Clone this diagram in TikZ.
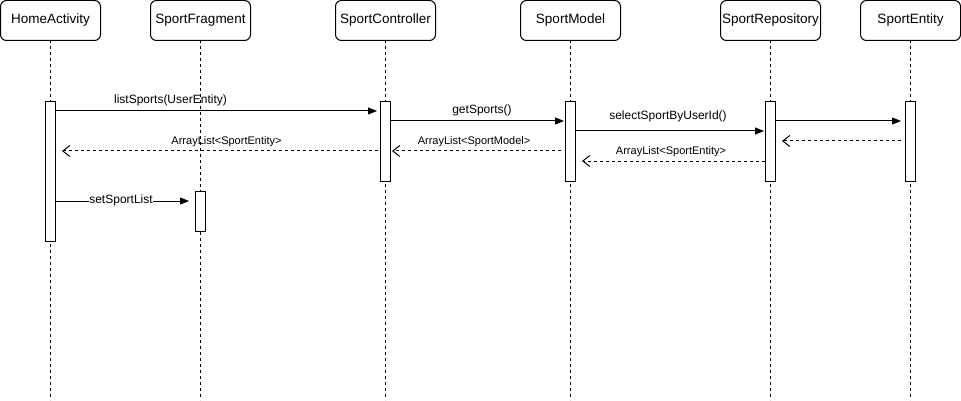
\documentclass[tikz,border=0pt]{standalone}
\usepackage{fontspec}
\setmainfont{Liberation Sans}
\usetikzlibrary{arrows.meta, positioning, calc}

\begin{document}
\begin{tikzpicture}[x=1pt, y=-1pt, line width=1pt,
  head/.style={draw, rounded corners=6pt, minimum width=100pt, minimum height=40pt, inner sep=0pt, font=\fontsize{13.5}{16}\selectfont},
  bar/.style={draw, fill=white, minimum width=10pt, inner sep=0pt},
  life/.style={dash pattern=on 3pt off 3pt},
  call/.style={-{Triangle[length=9pt, width=7pt]}},
  reply/.style={dash pattern=on 3pt off 3pt, -{Straight Barb[length=7pt, width=11pt]}},
  lbl/.style={font=\fontsize{12}{14}\selectfont, inner sep=1pt},
  small/.style={font=\fontsize{11}{13}\selectfont, inner sep=1pt}]
  \useasboundingbox (0,0) rectangle (961,401);
  \coordinate (bottom) at (0,400);

  % Lifelines and heads
  \foreach \nm/\x/\txt in {ha/50.5/HomeActivity, sf/200.5/SportFragment, sc/385.5/SportController,
                          sm/570.5/SportModel, sr/770.5/SportRepository, se/910.5/SportEntity} {
    \draw[life] (\x,40) -- (\x,400);
    \node[head] (\nm) at (\x,20.5) {\txt};
  }

  % Activation bars
  \node[bar, minimum height=140pt, below=60pt of ha] (hab) {};
  \node[bar, minimum height=40pt, below=150pt of sf] (sfb) {};
  \node[bar, minimum height=80pt, below=60pt of sc] (scb) {};
  \node[bar, minimum height=80pt, below=60pt of sm] (smb) {};
  \node[bar, minimum height=80pt, below=60pt of sr] (srb) {};
  \node[bar, minimum height=80pt, below=60pt of se] (seb) {};

  % Calls
  \draw[call, shorten >=3pt] ($(hab.north east)+(0,10)$) -- ($(scb.north west)+(0,10)$);
  \draw[call, shorten >=1pt] ($(scb.north east)+(0,20)$) -- ($(smb.north west)+(0,20)$);
  \draw[call, shorten >=1pt] ($(smb.north east)+(0,30)$) -- ($(srb.north west)+(0,30)$);
  \draw[call, shorten >=4pt] ($(srb.north east)+(0,20)$) -- ($(seb.north west)+(0,20)$);
  \draw[call, shorten >=6pt] ($(hab.north east)+(0,100)$) -- ($(sfb.north west)+(0,10)$);

  % Replies
  \draw[reply, shorten <=2pt, shorten >=6pt] ($(scb.north west)+(0,50)$) -- ($(hab.north east)+(0,50)$);
  \draw[reply, shorten <=4pt, shorten >=1pt] ($(smb.north west)+(0,50)$) -- ($(scb.north east)+(0,50)$);
  \draw[reply, shorten <=4pt, shorten >=6pt] ($(seb.north west)+(0,40)$) -- ($(srb.north east)+(0,40)$);
  \draw[reply, shorten >=6pt] ($(srb.north west)+(0,60)$) -- ($(smb.north east)+(0,60)$);

  % Labels
  \node[lbl] (l1) at (170.5,100) {listSports(UserEntity)};
  \node[lbl] (l2) at (482,110) {getSports()};
  \node[lbl] (l3) at (668,116) {selectSportByUserId()};
  \node[lbl, fill=white, inner sep=0pt] (l4) at (121,200) {setSportList};
  \node[small] (l5) at (226.5,142) {ArrayList<SportEntity>};
  \node[small] (l6) at (474,142) {ArrayList<SportModel>};
  \node[small] (l7) at (671,152) {ArrayList<SportEntity>};
\end{tikzpicture}
\end{document}
